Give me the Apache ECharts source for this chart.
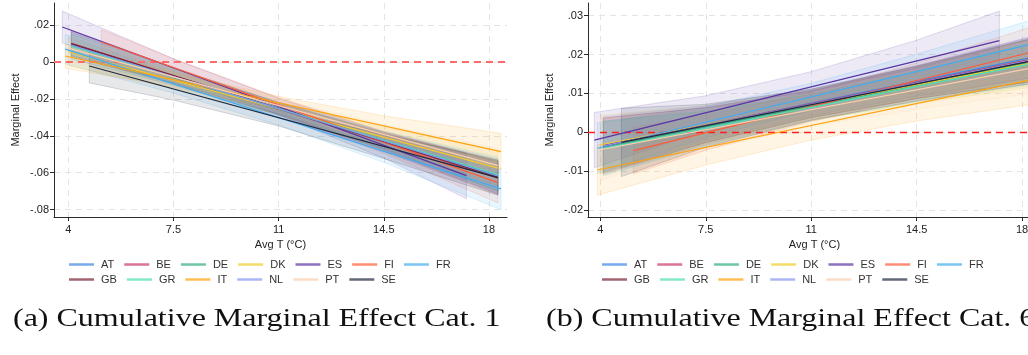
<!DOCTYPE html>
<html><head><meta charset="utf-8">
<script src="https://cdn.jsdelivr.net/npm/echarts@6/dist/echarts.min.js"></script>
<style>html,body{margin:0;padding:0;overflow:hidden;background:#fff}#main{width:1042px;height:355px}</style>
</head><body><div id="main"></div>
<script>
// ---------- data ----------
const countries = ['AT','BE','DE','DK','ES','FI','FR','GB','GR','IT','NL','PT','SE'];
const xTicks = [4, 7.5, 11, 14.5, 18];
const yTicksA = [-0.08, -0.06, -0.04, -0.02, 0, 0.02];
const yTicksB = [-0.02, -0.01, 0, 0.01, 0.02, 0.03];
const captionA = '(a) Cumulative Marginal Effect Cat. 1';
const captionB = '(b) Cumulative Marginal Effect Cat. 6';
// observed temperature range per country
const xStart = [4.1, 4.1, 4.1, 4.0, 3.8, 5.1, 3.9, 4.1, 4.1, 3.9, 4.1, 4.0, 4.7];
const xEnd   = [18.3, 18.3, 18.3, 18.3, 17.25, 18.3, 18.4, 18.3, 18.3, 18.4, 18.3, 18.3, 18.3];
const bandInnerX = [7.5, 11, 14.5];
// panel (a)
const lineStartA = [0.0095, 0.0100, 0.0090, 0.0055, 0.0189, 0.0108, 0.0069, 0.0099, 0.0085, 0.0032, 0.0090, 0.0075, -0.0022];
const lineEndA   = [-0.0615, -0.0630, -0.0620, -0.0575, -0.0616, -0.0654, -0.0688, -0.0625, -0.0610, -0.0486, -0.0618, -0.0562, -0.0627];
const bandLowA = [
  [0.003, -0.0115, -0.028, -0.047, -0.070],
  [0.003, -0.012, -0.029, -0.0485, -0.072],
  [0.003, -0.0115, -0.0285, -0.047, -0.070],
  [-0.002, -0.0144, -0.0288, -0.0457, -0.067],
  [0.0103, -0.0083, -0.0287, -0.0521, -0.0741],
  [0.0041, -0.0079, -0.0273, -0.0495, -0.0764],
  [-0.0011, -0.0169, -0.0342, -0.0544, -0.080],
  [0.0034, -0.0114, -0.0285, -0.0476, -0.0715],
  [0.0015, -0.0126, -0.0288, -0.0474, -0.0705],
  [-0.0033, -0.0137, -0.0257, -0.0402, -0.0585],
  [0.0015, -0.0125, -0.0289, -0.0479, -0.0713],
  [0.0005, -0.0126, -0.0272, -0.0448, -0.0657],
  [-0.0114, -0.0207, -0.0347, -0.0523, -0.0722]
];
const bandHighA = [
  [0.016, -0.0035, -0.022, -0.038, -0.053],
  [0.017, -0.003, -0.022, -0.0385, -0.054],
  [0.015, -0.0045, -0.0225, -0.039, -0.054],
  [0.013, -0.0054, -0.0218, -0.0357, -0.048],
  [0.0275, 0.0017, -0.0197, -0.0381, -0.0491],
  [0.0175, 0.0017, -0.0193, -0.0375, -0.0544],
  [0.0149, -0.0069, -0.0262, -0.0424, -0.0576],
  [0.0164, -0.0034, -0.0221, -0.0386, -0.0535],
  [0.0155, -0.0036, -0.0218, -0.0374, -0.0515],
  [0.0097, -0.0057, -0.0187, -0.0292, -0.0387],
  [0.0165, -0.0035, -0.0219, -0.0379, -0.0523],
  [0.0145, -0.0036, -0.0202, -0.0338, -0.0467],
  [0.007, -0.0087, -0.0257, -0.0393, -0.0532]
];
// panel (b)
const lineStartB = [-0.0036, -0.0034, -0.0038, -0.0032, -0.0020, -0.0047, -0.0041, -0.0035, -0.0042, -0.0097, -0.0035, -0.0045, -0.0026];
const lineEndB   = [0.0192, 0.0188, 0.0180, 0.0178, 0.0236, 0.0206, 0.0229, 0.0185, 0.0176, 0.0137, 0.0186, 0.0165, 0.0183];
const bandLowB = [
  [-0.0101, -0.0021, 0.0043, 0.0093, 0.014],
  [-0.0104, -0.0026, 0.0039, 0.0087, 0.013],
  [-0.0103, -0.0026, 0.0038, 0.0086, 0.013],
  [-0.0107, -0.0031, 0.0031, 0.0074, 0.0116],
  [-0.0091, 0.0006, 0.0078, 0.0131, 0.016],
  [-0.0107, -0.0046, 0.0028, 0.0088, 0.0141],
  [-0.0106, -0.0014, 0.0056, 0.0111, 0.0167],
  [-0.0107, -0.0027, 0.0037, 0.0086, 0.013],
  [-0.0112, -0.0035, 0.0029, 0.0078, 0.0121],
  [-0.0162, -0.0084, -0.002, 0.0029, 0.0073],
  [-0.011, -0.0032, 0.0032, 0.0082, 0.0126],
  [-0.0123, -0.0046, 0.0016, 0.0059, 0.01],
  [-0.0114, -0.0038, 0.0031, 0.008, 0.0125]
];
const bandHighB = [
  [0.0029, 0.0059, 0.0107, 0.0169, 0.0244],
  [0.0036, 0.0064, 0.0109, 0.0171, 0.0246],
  [0.0027, 0.0054, 0.0098, 0.0158, 0.023],
  [0.0043, 0.0069, 0.0111, 0.017, 0.024],
  [0.0051, 0.0094, 0.0156, 0.0237, 0.0312],
  [0.0013, 0.0044, 0.0104, 0.0178, 0.0271],
  [0.0024, 0.0066, 0.0126, 0.0201, 0.0291],
  [0.0037, 0.0063, 0.0107, 0.0166, 0.024],
  [0.0028, 0.0055, 0.0099, 0.0158, 0.0231],
  [-0.0032, 0.0006, 0.0056, 0.0119, 0.0201],
  [0.004, 0.0068, 0.0112, 0.0172, 0.0246],
  [0.0033, 0.0058, 0.01, 0.0159, 0.023],
  [0.0062, 0.0072, 0.0111, 0.017, 0.0241]
];

// ---------- style ----------
const colors = ['#3d86e8','#c93a68','#2eae7c','#f0cc2a','#5b35a3','#ff5b38','#42acf2','#7a2333','#4fe0b4','#ffa20a','#8797f2','#f9cfae','#1f2940'];
const FONT = '"Liberation Sans", Arial, sans-serif';
function rgba(hex, a) {
  const n = parseInt(hex.slice(1), 16);
  return 'rgba(' + (n >> 16) + ',' + ((n >> 8) & 255) + ',' + (n & 255) + ',' + a + ')';
}
function fmt(v) {
  v = Number(v.toFixed(4));
  if (v === 0) return '0';
  return (v < 0 ? '-' : '') + String(Math.abs(v)).replace(/^0/, '');
}

const chart = echarts.init(document.getElementById('main'), null, {renderer: 'canvas'});

const panels = [
  {lineStart: lineStartA, lineEnd: lineEndA, low: bandLowA, high: bandHighA, zero: {color: '#ff6a6a', width: 2, type: [7, 5]}},
  {lineStart: lineStartB, lineEnd: lineEndB, low: bandLowB, high: bandHighB, zero: {color: '#ff1f1f', width: 1.3, type: [7, 5]}}
];

const series = [];
panels.forEach((p, pi) => {
  countries.forEach((c, i) => {
    series.push({
      type: 'line', name: c, xAxisIndex: pi, yAxisIndex: pi,
      data: [[xStart[i], p.lineStart[i]], [xEnd[i], p.lineEnd[i]]],
      symbol: 'none', showSymbol: false, silent: true, z: 4,
      color: colors[i],
      itemStyle: {color: colors[i]},
      lineStyle: {color: colors[i], width: 1.2}
    });
  });
});
panels.forEach((p, pi) => {
  countries.forEach((c, i) => {
    const xs = [xStart[i]].concat(bandInnerX, [xEnd[i]]);
    const pts = xs.map((x, k) => [x, p.low[i][k], p.high[i][k]]);
    const s = {
      type: 'custom', name: c, xAxisIndex: pi, yAxisIndex: pi, silent: true, z: 2,
      color: colors[i],
      data: pts,
      encode: {x: 0, y: [1, 2]},
      renderItem: function (params, api) {
        if (params.dataIndex !== 0) return null;
        const upper = pts.map(q => api.coord([q[0], q[2]]));
        const lower = pts.map(q => api.coord([q[0], q[1]])).reverse();
        return {
          type: 'polygon',
          shape: {points: upper.concat(lower)},
          style: {fill: rgba(colors[i], 0.11), stroke: rgba(colors[i], 0.22), lineWidth: 0.8}
        };
      }
    };
    if (i === 0) {
      s.markLine = {
        silent: true, symbol: ['none', 'none'], z: 3, animation: false,
        label: {show: false},
        lineStyle: {color: p.zero.color, width: p.zero.width, type: p.zero.type},
        data: [{yAxis: 0}]
      };
    }
    series.push(s);
  });
});

const gridDefs = [
  {left: 54, top: 3, width: 453, height: 214},
  {left: 588, top: 3, width: 453, height: 214}
];
const xRanges = [[3.524, 18.6], [3.59, 18.63]];
const yRanges = [[-0.084, 0.0319], [-0.0218, 0.03327]];
const yTickSets = [yTicksA, yTicksB];

const splitStyle = {show: true, lineStyle: {color: '#e4e4e4', width: 1, type: [6, 5]}};
const axisLineStyle = {show: true, onZero: false, lineStyle: {color: '#2b2b2b', width: 1}};

const xAxes = [0, 1].map(k => ({
  type: 'value', gridIndex: k, min: xRanges[k][0], max: xRanges[k][1],
  name: 'Avg T (°C)', nameLocation: 'middle', nameGap: 20,
  nameTextStyle: {fontFamily: FONT, fontSize: 11, color: '#222'},
  axisLine: axisLineStyle,
  axisTick: {show: true, length: 4, inside: false, customValues: xTicks, lineStyle: {color: '#2b2b2b'}},
  axisLabel: {customValues: xTicks, margin: 7, fontFamily: FONT, fontSize: 11, color: '#222', formatter: v => String(Number(v.toFixed(2)))},
  splitLine: splitStyle
}));
const yAxes = [0, 1].map(k => ({
  type: 'value', gridIndex: k, min: yRanges[k][0], max: yRanges[k][1],
  name: 'Marginal Effect', nameLocation: 'middle', nameGap: 33,
  nameTextStyle: {fontFamily: FONT, fontSize: 11, color: '#222'},
  axisLine: axisLineStyle,
  axisTick: {show: true, length: 4, inside: false, customValues: yTickSets[k], lineStyle: {color: '#2b2b2b'}},
  axisLabel: {customValues: yTickSets[k], margin: 5, fontFamily: FONT, fontSize: 11, color: '#222', formatter: fmt},
  splitLine: splitStyle
}));

const legendBase = {
  icon: 'rect', itemWidth: 25, itemHeight: 2.5, itemGap: 10, padding: 0,
  selectedMode: false, orient: 'horizontal',
  itemStyle: {opacity: 0.7},
  textStyle: {fontFamily: FONT, fontSize: 11, color: '#333', width: 21, padding: [0, 0, 0, 2]}
};
const legends = [
  {data: countries.slice(0, 7), left: 69, top: 259},
  {data: countries.slice(7), left: 69, top: 274},
  {data: countries.slice(0, 7), left: 602, top: 259},
  {data: countries.slice(7), left: 602, top: 274}
].map(l => Object.assign({}, legendBase, l));

const captionStyle = {font: '25px "Liberation Serif", "Times New Roman", serif', fill: '#111', align: 'left', verticalAlign: 'top'};

chart.setOption({
  animation: false,
  backgroundColor: '#fff',
  grid: gridDefs,
  xAxis: xAxes,
  yAxis: yAxes,
  legend: legends,
  series: series,
  graphic: [
    {type: 'text', x: 13, y: 307, scaleX: 1.28, style: Object.assign({text: captionA}, captionStyle)},
    {type: 'text', x: 546, y: 307, scaleX: 1.28, style: Object.assign({text: captionB}, captionStyle)}
  ]
});
</script>
</body></html>
